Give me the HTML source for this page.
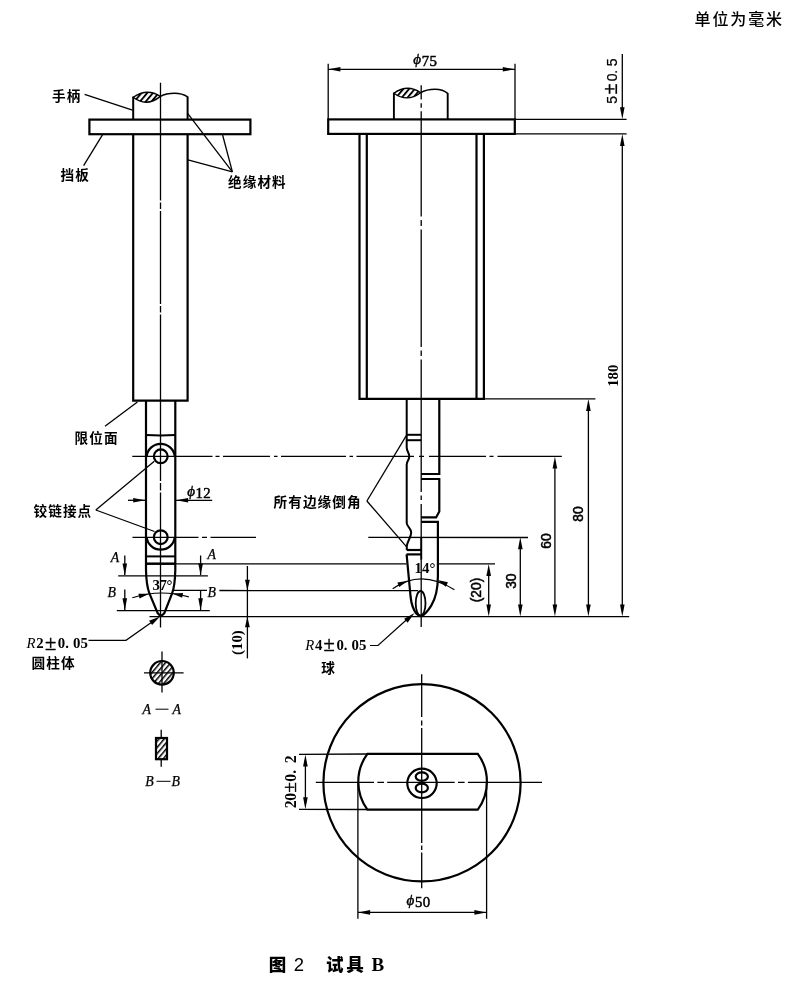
<!DOCTYPE html>
<html lang="zh-CN">
<head>
<meta charset="utf-8">
<title>图 2 试具 B</title>
<style>
html,body{margin:0;padding:0;background:#fff;}
body{width:790px;height:995px;overflow:hidden;}
svg{display:block;will-change:transform;filter:grayscale(1);}
text,tspan{stroke:none;fill:#000;}
.cj{font-family:"Liberation Sans","Noto Sans CJK SC",sans-serif;font-weight:700;font-size:13.6px;letter-spacing:1.1px;}
.unit{font-family:"Liberation Sans","Noto Sans CJK SC",sans-serif;font-weight:500;font-size:16px;letter-spacing:1.9px;}
.cap{font-family:"Liberation Sans","Noto Sans CJK SC",sans-serif;font-weight:900;font-size:17.5px;}
.cap2{font-weight:400;font-size:18.5px;}
.capB{font-family:"Liberation Serif",serif;font-weight:700;font-size:19px;}
.sr{font-family:"Liberation Serif",serif;font-size:14.8px;font-weight:700;}
.pm{font-size:20.5px;font-weight:400;stroke:#000;stroke-width:0.4px;}
.si{font-family:"Liberation Serif",serif;font-style:italic;font-size:13.8px;stroke:#000;stroke-width:0.25px;}
.it{font-style:italic;font-weight:400;}
.sm{font-family:"Liberation Serif",serif;font-size:14.8px;}
.sm tspan{stroke:#000;stroke-width:0.5px;}
.sm .phi{font-style:italic;font-size:15px;font-weight:400;stroke-width:0.45px;}
.sa{font-family:"Liberation Sans",sans-serif;font-size:13.8px;stroke:#000;stroke-width:0.5px;}
.mo{font-family:"Liberation Sans",sans-serif;font-size:14px;}
.mo tspan{stroke:#000;stroke-width:0.2px;}
.pm2{font-size:19.5px;}
.sb.sb2{font-size:15.8px;}
.sb .pm3{font-size:19px;font-weight:400;stroke:#000;stroke-width:0.4px;}
.sb{font-family:"Liberation Serif",serif;font-size:14.8px;font-weight:700;}
</style>
</head>
<body>
<svg width="790" height="995" viewBox="0 0 790 995">
<defs>
<pattern id="hatch" width="4.4" height="4.4" patternUnits="userSpaceOnUse" patternTransform="rotate(-50)"><rect x="0" y="0" width="4.4" height="1.9" fill="#000" stroke="none"/></pattern>
<pattern id="hatch2" width="4" height="4" patternUnits="userSpaceOnUse" patternTransform="rotate(-50)"><rect x="0" y="0" width="4" height="1.5" fill="#000" stroke="none"/></pattern>
</defs>
<rect x="0" y="0" width="790" height="995" fill="#fff" stroke="none"/>
<g fill="none" stroke="#000" stroke-linecap="butt" stroke-linejoin="miter">
<line x1="133.2" y1="96.6" x2="133.2" y2="119.6" stroke-width="2" />
<line x1="187.6" y1="96.4" x2="187.6" y2="119.6" stroke-width="2" />
<path d="M133.2,97.3 Q147,87.6 160.4,96.4 Q146.5,107.6 133.2,97.3 Z" fill="url(#hatch)" stroke-width="1.4" stroke-linejoin="round"/>
<path d="M160.4,96.4 C165,93.8 170,93.3 174.6,93.3 C180,93.3 184,94.5 187.6,96.8" stroke-width="1.4" fill="none" />
<rect x="89.4" y="119.6" width="161" height="14.6" fill="none" stroke-width="2.2"/>
<path d="M133.2,134.2V400.6H187.6V134.2" stroke-width="2.2" fill="none" />
<path d="M146,400.6V570 C146.2,580 147.5,588.5 149.5,593.6 L157.6,613 Q160.9,617.6 164.4,613 L172,593.6 C174,588.5 175.1,580 175.3,570 V400.6" stroke-width="2.2" fill="none" />
<path d="M146,435.1 Q160.7,436 175.3,435.1" stroke-width="2" fill="none" />
<path d="M146.6,456.3 A14.2,14.2 0 0 1 174.8,456.3" stroke-width="2.2" fill="none" />
<circle cx="160.75" cy="456.3" r="6.9" fill="none" stroke-width="2.2"/>
<path d="M146.6,537.2 A14.2,14.2 0 0 0 174.8,537.2" stroke-width="2.2" fill="none" />
<circle cx="160.75" cy="537.2" r="6.9" fill="none" stroke-width="2.2"/>
<line x1="146" y1="556.4" x2="175.3" y2="556.4" stroke-width="2" />
<line x1="146" y1="563.7" x2="175.3" y2="563.7" stroke-width="2.5" />
<path d="M160.5,82.7V200.5 M160.5,202.5V209 M160.5,211V304 M160.5,306V312.5 M160.5,314.5V481 M160.5,483V490.5 M160.5,492.5V627.5" stroke-width="1.3" fill="none" />
<path d="M132.3,456.4H212.5 M215.5,456.4H219.5 M223,456.4H270 M274,456.4H277.5 M281,456.4H346 M349.5,456.4H353 M356.5,456.4H414 M419,456.4H424 M429,456.4H486 M489.5,456.4H493.5 M497.5,456.4H561.8" stroke-width="1.3" fill="none" />
<path d="M132.5,537.3H198.5 M202,537.3H207 M210.5,537.3H256" stroke-width="1.3" fill="none" />
<line x1="368.3" y1="537.4" x2="528" y2="537.5" stroke-width="1.3" />
<line x1="149.5" y1="616.6" x2="629.2" y2="616.6" stroke-width="1.3" />
<text x="52" y="101" class="cj" >手柄</text>
<line x1="84.6" y1="94.3" x2="132.5" y2="110.2" stroke-width="1.3" />
<text x="60.5" y="180" class="cj" >挡板</text>
<line x1="102.6" y1="134.6" x2="83.6" y2="165.7" stroke-width="1.3" />
<text x="228" y="186.8" class="cj" >绝缘材料</text>
<line x1="187.8" y1="113.6" x2="232.4" y2="171.9" stroke-width="1.3" />
<line x1="222.6" y1="135" x2="232.4" y2="171.9" stroke-width="1.3" />
<line x1="188" y1="159.8" x2="232.4" y2="171.9" stroke-width="1.3" />
<text x="74.5" y="442.5" class="cj" >限位面</text>
<line x1="137.4" y1="402" x2="105" y2="426.3" stroke-width="1.3" />
<text x="33.5" y="516" class="cj" >铰链接点</text>
<line x1="95.8" y1="510" x2="154.3" y2="461.3" stroke-width="1.3" />
<line x1="95.8" y1="510" x2="154.5" y2="531.5" stroke-width="1.3" />
<line x1="128" y1="500.3" x2="146" y2="500.3" stroke-width="1.3" />
<line x1="175.3" y1="500.3" x2="212.2" y2="500.3" stroke-width="1.3" />
<polygon points="145.20,500.30 133.20,502.60 133.20,498.00" fill="#000" stroke="none"/>
<polygon points="176.10,500.30 188.10,498.00 188.10,502.60" fill="#000" stroke="none"/>
<text class="sm"><tspan class="phi" x="187.2" y="495.5">ϕ</tspan><tspan x="195.6" y="497.8" letter-spacing="0.3">12</tspan></text>
<line x1="124.8" y1="555.5" x2="124.8" y2="575" stroke-width="1.3" />
<polygon points="124.80,575.40 122.50,563.40 127.10,563.40" fill="#000" stroke="none"/>
<line x1="200.6" y1="555.5" x2="200.6" y2="575" stroke-width="1.3" />
<polygon points="200.60,575.40 198.30,563.40 202.90,563.40" fill="#000" stroke="none"/>
<line x1="118.2" y1="575.8" x2="207.9" y2="575.8" stroke-width="1.3" />
<line x1="124.8" y1="589.6" x2="124.8" y2="610" stroke-width="1.3" />
<polygon points="124.80,610.30 122.50,598.30 127.10,598.30" fill="#000" stroke="none"/>
<line x1="200.6" y1="590" x2="200.6" y2="610" stroke-width="1.3" />
<polygon points="200.60,610.30 198.30,598.30 202.90,598.30" fill="#000" stroke="none"/>
<line x1="116.8" y1="610.7" x2="209.8" y2="610.7" stroke-width="1.3" />
<text x="110.8" y="562.0" class="si" >A</text>
<text x="207.6" y="558.5" class="si" >A</text>
<text x="107.5" y="596.5" class="si" >B</text>
<text x="207.6" y="596.5" class="si" >B</text>
<line x1="175.3" y1="563.8" x2="406.5" y2="563.8" stroke-width="1.3" />
<line x1="437.9" y1="563.8" x2="495" y2="563.8" stroke-width="1.3" />
<line x1="173.5" y1="590.3" x2="207" y2="590.3" stroke-width="1.3" />
<line x1="219.4" y1="590.5" x2="418" y2="590.7" stroke-width="1.3" />
<path d="M132.3,597.7 Q160.5,588.7 188.8,596.9" stroke-width="1.2" fill="none" />
<polygon points="149.20,593.70 139.51,598.39 138.43,593.71" fill="#000" stroke="none"/>
<polygon points="172.30,593.40 183.07,593.11 182.13,597.81" fill="#000" stroke="none"/>
<text x="152.4" y="590.2" class="sr" letter-spacing="-0.4">37°</text>
<line x1="247.4" y1="566" x2="247.4" y2="658.4" stroke-width="1.3" />
<polygon points="247.40,590.20 245.00,579.70 249.80,579.70" fill="#000" stroke="none"/>
<polygon points="247.40,616.80 249.80,627.30 245.00,627.30" fill="#000" stroke="none"/>
<text transform="translate(241.6,642.6) rotate(-90)" class="sb" text-anchor="middle" >(10)</text>
<text x="27" y="648.1" class="sr" ><tspan class="it" x="26.6">R</tspan><tspan x="36.3">2</tspan><tspan x="44.9" dy="1.8" class="pm">±</tspan><tspan x="57.8" dy="-1.8">0.</tspan><tspan x="73">05</tspan></text>
<path d="M88.5,640.3H126L152,622" stroke-width="1.2" fill="none" />
<polygon points="160.00,616.40 152.07,625.12 149.09,620.86" fill="#000" stroke="none"/>
<text x="31.6" y="667.8" class="cj" >圆柱体</text>
<circle cx="162" cy="672.8" r="11.8" fill="url(#hatch2)" stroke-width="2.2"/>
<line x1="162" y1="651.5" x2="162" y2="692.6" stroke-width="1.3" />
<line x1="144" y1="672.8" x2="183.6" y2="672.8" stroke-width="1.3" />
<text x="142.5" y="713.5" class="si" >A</text>
<line x1="155.5" y1="709.2" x2="168.5" y2="709.2" stroke-width="1" />
<text x="172.5" y="713.5" class="si" >A</text>
<rect x="156" y="738" width="11" height="21.2" fill="url(#hatch2)" stroke-width="2.2"/>
<line x1="161.2" y1="729.8" x2="161.2" y2="737" stroke-width="1.3" />
<line x1="161.2" y1="760" x2="161.2" y2="766.7" stroke-width="1.3" />
<text x="145.3" y="785.7" class="si" >B</text>
<line x1="156.5" y1="781.3" x2="170.5" y2="781.3" stroke-width="1" />
<text x="171.6" y="785.7" class="si" >B</text>
<line x1="393.9" y1="92.6" x2="393.9" y2="119.4" stroke-width="1.9" />
<line x1="447.7" y1="93" x2="447.7" y2="119.4" stroke-width="1.9" />
<path d="M393.9,93.2 Q407.5,83.6 420.6,92.7 Q407,102.8 393.9,93.2 Z" fill="url(#hatch)" stroke-width="1.4" stroke-linejoin="round"/>
<path d="M420.6,92.7 C425,90 430,89.2 435,89.2 C440,89.2 444.5,90.6 447.7,93.4" stroke-width="1.4" fill="none" />
<rect x="328.2" y="119.4" width="186.6" height="14.5" fill="none" stroke-width="2.2"/>
<path d="M359.5,133.9V398.8H483.9V133.9" stroke-width="2.2" fill="none" />
<line x1="366.8" y1="133.9" x2="366.8" y2="398.8" stroke-width="2.2" />
<line x1="476.5" y1="133.9" x2="476.5" y2="398.8" stroke-width="2.2" />
<line x1="483.9" y1="398.8" x2="595.4" y2="398.8" stroke-width="1.3" />
<path d="M406.7,398.8V447.5 C406.7,451 409.3,453 409.3,456.5 C409.3,460 406.7,461 406.7,464.5 V523 C407,527 411.2,528 411.2,532.5 C411.2,537 407.5,541 406.8,546 V550" stroke-width="2" fill="none" />
<line x1="406.7" y1="434.8" x2="421.2" y2="434.8" stroke-width="2" />
<line x1="406.7" y1="440.2" x2="421.2" y2="440.2" stroke-width="2" />
<line x1="406.7" y1="550" x2="421.2" y2="550" stroke-width="2.2" />
<line x1="406.5" y1="554.4" x2="421.2" y2="554.4" stroke-width="2.2" />
<path d="M439.3,398.8V474H421.2" stroke-width="2.2" fill="none" />
<path d="M421.2,479H439.3V511.5L436.1,517.4H421.2" stroke-width="2.2" fill="none" />
<path d="M421.2,521.8H437.9V576 C437.9,588 436,598 431.1,605.9 C428.5,610 425.5,614.2 421.5,616.2" stroke-width="2.2" fill="none" />
<path d="M406.6,554.4 L410.6,597 C411.3,603 413,609.5 416.5,613.8 C418,615.5 419.8,616.2 421.5,616.2" stroke-width="2.2" fill="none" />
<ellipse cx="420.6" cy="603.3" rx="4.9" ry="12.3" fill="none" stroke-width="1.8"/>
<line x1="421.2" y1="537" x2="421.2" y2="559.5" stroke-width="2" />
<path d="M421.2,85.2V99.4 M421.2,103.3V107.8 M421.2,111.3V216.5 M421.2,220V226 M421.2,229.5V347 M421.2,350.5V356 M421.2,359.5V492 M421.2,495.5V500 M421.2,504V537 M421.2,559V627" stroke-width="1.3" fill="none" />
<line x1="328.2" y1="63.7" x2="328.2" y2="119" stroke-width="1.3" />
<line x1="515" y1="63.7" x2="515" y2="119" stroke-width="1.3" />
<line x1="328.2" y1="69.3" x2="515" y2="69.3" stroke-width="1.3" />
<polygon points="328.40,69.30 340.40,67.00 340.40,71.60" fill="#000" stroke="none"/>
<polygon points="514.80,69.30 502.80,71.60 502.80,67.00" fill="#000" stroke="none"/>
<text class="sm"><tspan class="phi" x="413.3" y="63.900000000000006">ϕ</tspan><tspan x="421.7" y="66.2" letter-spacing="0.3">75</tspan></text>
<line x1="515" y1="119.3" x2="626.6" y2="119.3" stroke-width="1.3" />
<line x1="515" y1="133.8" x2="626.6" y2="133.8" stroke-width="1.3" />
<line x1="622.3" y1="54" x2="622.3" y2="110" stroke-width="1.3" />
<polygon points="622.30,119.20 620.00,107.20 624.60,107.20" fill="#000" stroke="none"/>
<line x1="622.3" y1="140" x2="622.3" y2="610" stroke-width="1.3" />
<polygon points="622.30,133.90 624.60,145.90 620.00,145.90" fill="#000" stroke="none"/>
<polygon points="622.30,616.50 620.00,604.50 624.60,604.50" fill="#000" stroke="none"/>
<text transform="translate(617.0,0) rotate(-90)" class="mo" text-anchor="middle"><tspan x="-99.8" y="0">5</tspan><tspan x="-88.9" y="0" class="pm2">±</tspan><tspan x="-77.3" y="0">0</tspan><tspan x="-71.7" y="0">.</tspan><tspan x="-62.3" y="0">5</tspan></text>
<text transform="translate(617.9,375.7) rotate(-90)" class="sb" text-anchor="middle" >180</text>
<line x1="588.4" y1="405" x2="588.4" y2="610" stroke-width="1.3" />
<polygon points="588.40,398.90 590.70,410.90 586.10,410.90" fill="#000" stroke="none"/>
<polygon points="588.40,616.50 586.10,604.50 590.70,604.50" fill="#000" stroke="none"/>
<text transform="translate(582.9,514) rotate(-90)" class="sa" text-anchor="middle" >80</text>
<line x1="554.9" y1="462" x2="554.9" y2="610" stroke-width="1.3" />
<polygon points="554.90,456.50 557.20,468.50 552.60,468.50" fill="#000" stroke="none"/>
<polygon points="554.90,616.50 552.60,604.50 557.20,604.50" fill="#000" stroke="none"/>
<text transform="translate(551.0,541) rotate(-90)" class="sa" text-anchor="middle" >60</text>
<line x1="520.3" y1="543" x2="520.3" y2="610" stroke-width="1.3" />
<polygon points="520.30,537.30 522.60,549.30 518.00,549.30" fill="#000" stroke="none"/>
<polygon points="520.30,616.50 518.00,604.50 522.60,604.50" fill="#000" stroke="none"/>
<text transform="translate(516.1,581.2) rotate(-90)" class="sa" text-anchor="middle" >30</text>
<line x1="488.7" y1="570" x2="488.7" y2="610" stroke-width="1.3" />
<polygon points="488.70,563.90 491.00,575.90 486.40,575.90" fill="#000" stroke="none"/>
<polygon points="488.70,616.50 486.40,604.50 491.00,604.50" fill="#000" stroke="none"/>
<text transform="translate(480.8,590) rotate(-90)" class="sa" text-anchor="middle" >(20)</text>
<path d="M392.7,588.7 Q421,568.4 454.4,589.7" stroke-width="1.2" fill="none" />
<polygon points="408.00,580.70 399.20,586.91 397.38,582.47" fill="#000" stroke="none"/>
<polygon points="437.40,580.10 447.93,582.37 445.90,586.72" fill="#000" stroke="none"/>
<text x="414.6" y="573.3" class="sr" >14°</text>
<text x="273.5" y="507" class="cj" >所有边缘倒角</text>
<line x1="366.9" y1="501" x2="406.3" y2="435.7" stroke-width="1.3" />
<line x1="366.9" y1="501" x2="406.4" y2="546.6" stroke-width="1.3" />
<text x="305.6" y="649.6" class="sr" ><tspan class="it" x="305.2">R</tspan><tspan x="314.9">4</tspan><tspan x="323.5" dy="1.8" class="pm">±</tspan><tspan x="336.4" dy="-1.8">0.</tspan><tspan x="351.6">05</tspan></text>
<path d="M370,645.5H378L406,620.3" stroke-width="1.2" fill="none" />
<polygon points="414.50,613.10 407.63,622.68 404.18,618.80" fill="#000" stroke="none"/>
<text x="321.2" y="673" class="cj" >球</text>
<circle cx="422" cy="782.8" r="98.6" fill="none" stroke-width="2.2"/>
<path d="M367.40,753.80 H477.80 A47.3,47.3 0 0 1 477.80,809.60 H367.40 A47.3,47.3 0 0 1 367.40,753.80 Z" stroke-width="2.2" fill="none" />
<circle cx="422" cy="783.3" r="14.7" fill="none" stroke-width="2.2"/>
<ellipse cx="421.8" cy="776.6" rx="6.1" ry="4.3" fill="none" stroke-width="2.2"/>
<ellipse cx="421.8" cy="788" rx="6.1" ry="4.3" fill="none" stroke-width="2.2"/>
<path d="M421.7,674.2V717 M421.7,720.5V725.6 M421.7,728V843 M421.7,845.5V850 M421.7,852.5V888.3" stroke-width="1.3" fill="none" />
<path d="M315.8,782.3H374 M377.4,782.3H384 M387.2,782.3H454.7 M458,782.3H464.6 M467.9,782.3H542" stroke-width="1.3" fill="none" />
<line x1="299" y1="754.4" x2="367" y2="754" stroke-width="1.3" />
<line x1="299" y1="809.3" x2="367" y2="809.5" stroke-width="1.3" />
<line x1="305.4" y1="760" x2="305.4" y2="804" stroke-width="1.3" />
<polygon points="305.40,754.50 307.70,766.50 303.10,766.50" fill="#000" stroke="none"/>
<polygon points="305.40,809.20 303.10,797.20 307.70,797.20" fill="#000" stroke="none"/>
<text transform="translate(295.6,0) rotate(-90)" class="sb sb2" text-anchor="middle"><tspan x="-804.3" y="0">2</tspan><tspan x="-796.9" y="0">0</tspan><tspan x="-787.4" y="0" class="pm3">±</tspan><tspan x="-777.7" y="0">0</tspan><tspan x="-771.7" y="0">.</tspan><tspan x="-759.4" y="0">2</tspan></text>
<line x1="357.9" y1="782" x2="357.9" y2="918.8" stroke-width="1.3" />
<line x1="486.6" y1="782" x2="486.6" y2="918.8" stroke-width="1.3" />
<line x1="358" y1="912.4" x2="486.5" y2="912.4" stroke-width="1.3" />
<polygon points="358.10,912.40 370.10,910.10 370.10,914.70" fill="#000" stroke="none"/>
<polygon points="486.40,912.40 474.40,914.70 474.40,910.10" fill="#000" stroke="none"/>
<text class="sm"><tspan class="phi" x="406.6" y="905.1">ϕ</tspan><tspan x="415.0" y="907.4" letter-spacing="0.3">50</tspan></text>
<text x="694.5" y="25" class="unit" >单位为毫米</text>
<text y="971" class="cap"><tspan x="268.7">图</tspan><tspan class="cap2" x="293.8">2</tspan><tspan x="326">试</tspan><tspan x="346.3">具</tspan><tspan class="capB" x="371.6">B</tspan></text>
</g>
</svg>
</body>
</html>
